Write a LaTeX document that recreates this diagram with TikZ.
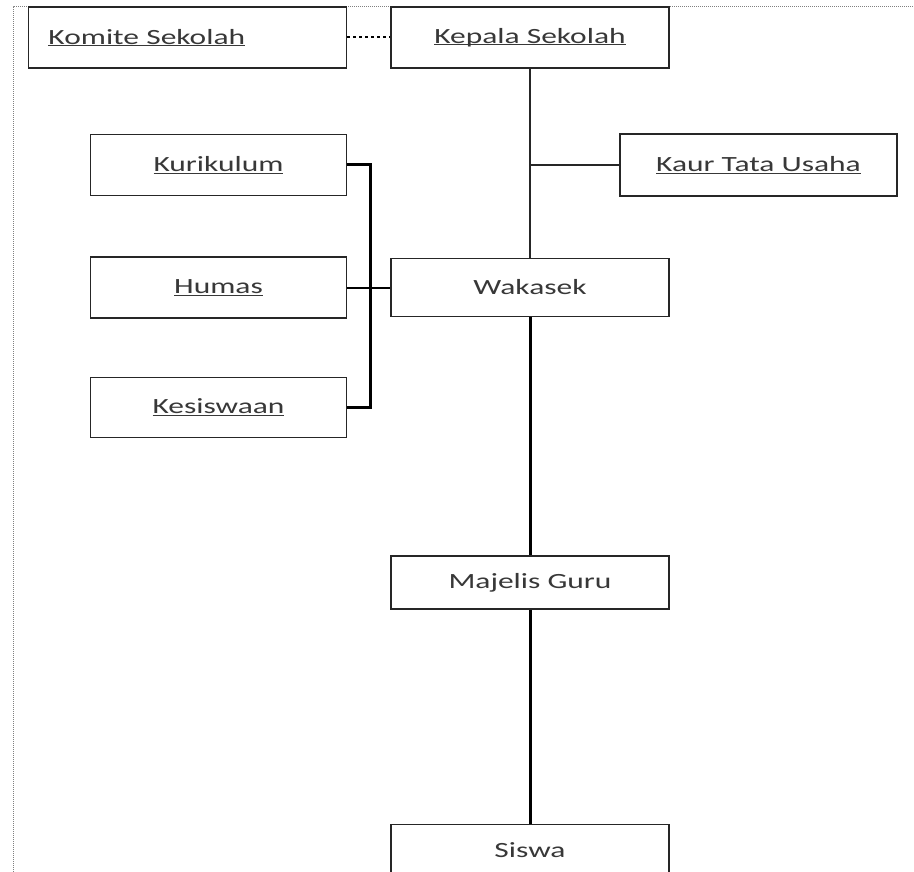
\documentclass[tikz,border=0pt]{standalone}
\usepackage{fontspec}
\setmainfont{Carlito}[FakeStretch=1.45]
\usetikzlibrary{positioning}
\definecolor{teks}{HTML}{383838}
\definecolor{garis}{HTML}{262626}
\newcommand{\garisbawah}[1]{\underline{\smash{#1}}\vphantom{#1}}

\begin{document}
\begin{tikzpicture}[x=1pt, y=-1pt,
  kotak/.style={draw=garis, line width=1.5pt, fill=white, text=teks, inner sep=0pt,
    minimum width=278pt, minimum height=61pt, font=\fontsize{21.7}{26}\selectfont},
  seksi/.style={kotak, minimum width=256pt},
  tipis/.style={draw=garis, line width=1.5pt},
  tebal/.style={draw=black, line width=3pt},
  sedang/.style={draw=black, line width=2pt}]

  \useasboundingbox (0,0) rectangle (914,872);
  \draw[gray, line width=1pt, dash pattern=on 1pt off 1pt] (13,872) -- (13,7) -- (914,7);

  \node[kotak] (kepala) at (530,37.5) {\garisbawah{Kepala Sekolah}};
  \node[kotak, minimum width=318pt, inner xsep=20pt, text width=278pt, align=left,
    left=43pt of kepala] (komite) {\garisbawah{Komite Sekolah}};
  \node[kotak, minimum width=277pt, minimum height=62pt] (kaur) at (758.5,165) {\garisbawah{Kaur Tata Usaha}};
  \node[kotak, minimum height=58pt, below=189pt of kepala] (wakasek) {Wakasek};
  \node[seksi, left=43pt of wakasek] (humas) {\garisbawah{Humas}};
  \node[seksi, above=60pt of humas] (kurikulum) {\garisbawah{Kurikulum}};
  \node[seksi, minimum height=60pt, below=58pt of humas] (kesiswaan) {\garisbawah{Kesiswaan}};
  \node[kotak, minimum height=53pt, below=238pt of wakasek] (majelis) {Majelis Guru};
  \node[kotak, minimum height=52pt, below=214pt of majelis] (siswa) {Siswa};

  \coordinate (cabang) at (kepala.south |- kaur.west);
  \coordinate[right=23pt of humas.east] (bar);

  \draw[black, line width=2pt, dash pattern=on 3pt off 3pt] (komite) -- (kepala);
  \draw[tipis] (kepala) -- (wakasek);
  \draw[tipis] (cabang) -- (kaur);
  \draw[tebal] (kurikulum.east) -| (bar) |- (kesiswaan.east);
  \draw[sedang] (humas) -- (wakasek);
  \draw[tebal] (wakasek) -- (majelis);
  \draw[tebal] (majelis) -- (siswa);
\end{tikzpicture}
\end{document}
